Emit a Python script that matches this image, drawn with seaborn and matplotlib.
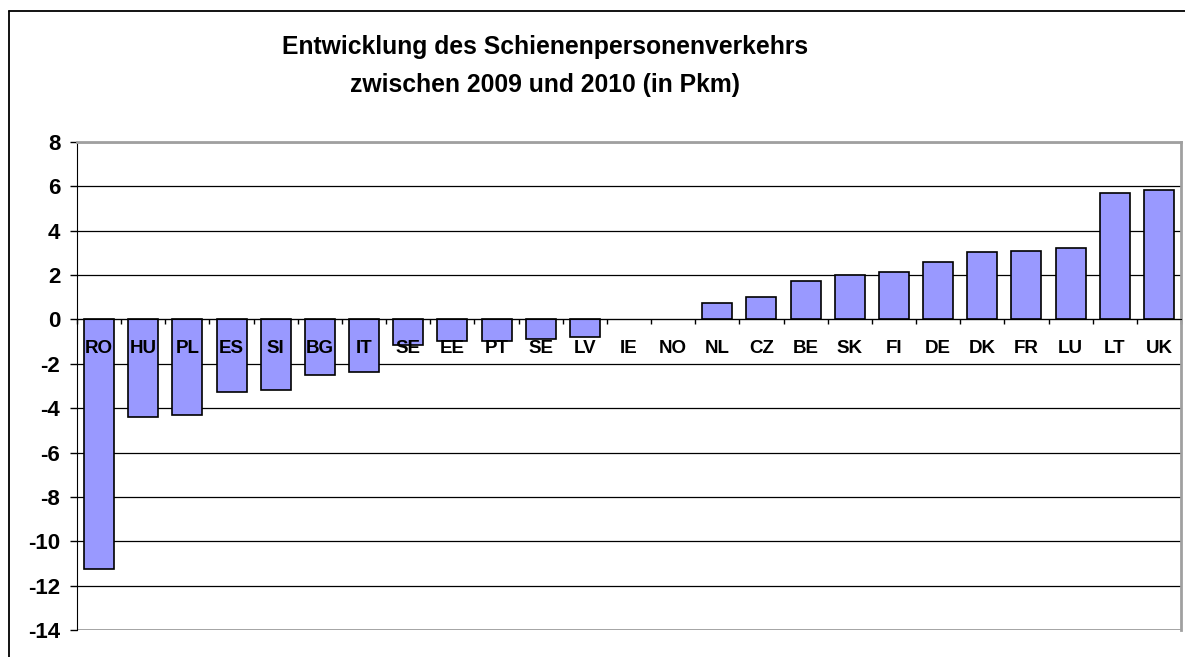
import numpy as np
import pandas as pd
import seaborn as sns
import matplotlib.pyplot as plt
from matplotlib.lines import Line2D

sns.set_style("white")
plt.rcParams['font.family'] = ['Liberation Sans', 'DejaVu Sans']
plt.rcParams['text.color'] = 'black'
plt.rcParams['ytick.color'] = 'black'
plt.rcParams['xtick.color'] = 'black'

# Daten (Veränderung in %)
laender = ['RO', 'HU', 'PL', 'ES', 'SI', 'BG', 'IT', 'SE', 'EE', 'PT', 'SE', 'LV', 'IE',
           'NO', 'NL', 'CZ', 'BE', 'SK', 'FI', 'DE', 'DK', 'FR', 'LU', 'LT', 'UK']
werte = [-11.25, -4.4, -4.3, -3.25, -3.2, -2.5, -2.35, -1.15, -0.95, -0.95, -0.9, -0.8, 0.0,
         0.0, 0.75, 1.0, 1.75, 2.0, 2.15, 2.6, 3.05, 3.1, 3.2, 5.7, 5.85]
y_ticks = [8, 6, 4, 2, 0, -2, -4, -6, -8, -10, -12, -14]

df = pd.DataFrame({'pos': np.arange(len(laender)), 'land': laender, 'wert': werte})

fig = plt.figure(figsize=(11.85, 6.57), dpi=100)
ax = fig.add_axes([77 / 1185, 1 - 630 / 657, (1181 - 77) / 1185, (630 - 142) / 657])

sns.barplot(data=df, x='pos', y='wert', color='#9999FF', saturation=1,
            edgecolor='black', linewidth=1.2, width=0.68, ax=ax, zorder=3)

# Balken ohne Wert (IE, NO) nicht umranden
for p in ax.patches:
    if p.get_height() == 0:
        p.set_linewidth(0)

ax.set_xlim(-0.5, len(laender) - 0.5)
ax.set_ylim(-14, 8)
ax.set_yticks(y_ticks)
ax.set_yticklabels([str(t) for t in y_ticks], fontsize=16, fontweight='bold', color='black')
ax.yaxis.grid(True, color='black', linewidth=0.9, zorder=0)
ax.set_axisbelow(True)

# Kategorieachse bei 0 mit Teilstrichen zwischen den Balken
ax.spines['bottom'].set_position(('data', 0))
ax.spines['bottom'].set_color('black')
ax.spines['bottom'].set_zorder(4)
ax.set_xticks(np.arange(len(laender) + 1) - 0.5)
ax.set_xticklabels([])
ax.tick_params(axis='x', direction='out', length=3.6, width=1, color='black', bottom=True)
ax.tick_params(axis='y', direction='out', length=5, width=1, color='black', left=True, pad=7)
ax.spines['left'].set_color('black')
for s in ['top', 'right']:
    ax.spines[s].set_color('#a0a0a0')
    ax.spines[s].set_linewidth(2)
ax.set_xlabel('')
ax.set_ylabel('')

# untere Begrenzung des Diagrammbereichs
ax.axhline(-14, color='#a0a0a0', linewidth=2, zorder=2)

for i, lab in enumerate(laender):
    ax.text(i, -1.3, lab, ha='center', va='center', fontsize=13.5, fontweight='bold', zorder=5)

fig.text(545 / 1185, 1 - 66 / 657, 'Entwicklung des Schienenpersonenverkehrs\nzwischen 2009 und 2010 (in Pkm)',
         ha='center', va='center', fontsize=17.8, fontweight='bold', linespacing=1.75)

# äußerer Rahmen
fig.add_artist(Line2D([9 / 1185, 9 / 1185], [0, 1 - 11 / 657], color='black', linewidth=1.3,
                      transform=fig.transFigure))
fig.add_artist(Line2D([9 / 1185, 1], [1 - 11 / 657, 1 - 11 / 657], color='black', linewidth=1.3,
                      transform=fig.transFigure))

fig.savefig('out.png', dpi=100)
